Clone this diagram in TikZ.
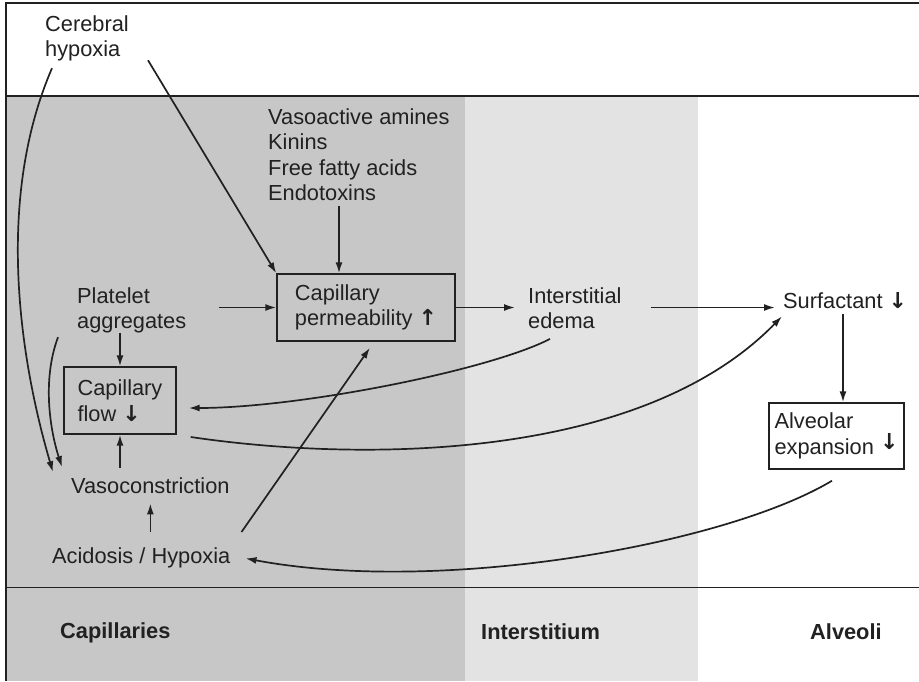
\documentclass[tikz,border=0pt]{standalone}
\usepackage{fontspec}
\setmainfont{Liberation Sans}
\newfontfamily\arrfont{DejaVu Sans}
\usetikzlibrary{arrows.meta,calc}
\definecolor{capgray}{gray}{0.78}
\definecolor{intgray}{gray}{0.89}
\definecolor{ink}{gray}{0.13}
\newcommand{\upar}{{\arrfont\bfseries\fontsize{22}{24}\selectfont ↑}}
\newcommand{\dnar}{{\arrfont\bfseries\fontsize{22}{24}\selectfont ↓}}
\begin{document}
\begin{tikzpicture}[x=1pt,y=-1pt,
  txt/.style={inner sep=0pt, align=left, anchor=north west, text=ink, font=\fontsize{21.8}{25.5}\selectfont},
  bx/.style={draw=ink, line width=1.4pt, inner sep=0pt, align=left, text=ink, font=\fontsize{21.8}{25.5}\selectfont},
  bold/.style={txt, font=\fontsize{21.8}{25.5}\selectfont\bfseries},
  arr/.style={draw=ink, line width=1.7pt, -{Latex[length=11pt,width=7pt]}},
]
\useasboundingbox (0,0) rectangle (919,681);
\fill[white] (0,0) rectangle (919,681);
\fill[capgray] (6,96) rectangle (465,681);
\fill[intgray] (465,96) rectangle (698,681);
\draw[ink, line width=1.1pt] (919,3) -- (6,3) -- (6,681);
\draw[ink, line width=1.1pt] (6,96) -- (919,96);
\draw[ink, line width=0.9pt] (6,587) -- (919,587);

\node[txt] (cer) at (45,15) {Cerebral\\hypoxia};
\node[txt] (vaso) at (268,108) {Vasoactive amines\\Kinins\\Free fatty acids\\Endotoxins};
\node[bx, minimum width=178pt, minimum height=67pt] (perm) at (366,307.5) {Capillary\\permeability \upar};
\node[txt] (plat) at (77,287) {Platelet\\aggregates};
\node[txt] (edema) at (528,287) {Interstitial\\edema};
\node[txt] (surf) at (783,292) {Surfactant \dnar};
\node[bx, minimum width=112pt, minimum height=67pt] (flow) at (120,400.5) {Capillary\\flow \dnar};
\node[bx, minimum width=135pt, minimum height=66pt] (alv) at (836.5,436) {Alveolar\\expansion \raisebox{5pt}{\dnar}};
\node[txt] (vasoc) at (71,477) {Vasoconstriction};
\node[txt] (acid) at (52,547) {Acidosis / Hypoxia};
\node[bold] (lcap) at (60,622) {Capillaries};
\node[bold] (lint) at (481,623) {Interstitium};
\node[bold] (lalv) at (810,623) {Alveoli};

\coordinate (vx) at ($(vaso.south west)+(71,5)$);
\coordinate (pa) at ($(plat.east)+(33,0)$);
\coordinate (sa) at ($(alv.north)+(6.5,0)$);

\draw[arr] ($(cer.south east)+(19,-1)$) -- (perm.north west);
\draw[arr] (vx) -- (vx |- perm.north);
\draw[arr] (pa |- perm.west) -- (perm.west);
\draw[arr, shorten >=13pt] (perm.east) -- (edema.west |- perm.east);
\draw[arr, shorten <=29pt, shorten >=8pt] (edema.east |- perm.east) -- (surf.west |- perm.east);
\draw[arr, shorten <=5pt] (sa |- surf.south) -- (sa);
\draw[arr] (flow.north |- plat.south) -- (flow.north);
\draw[arr, shorten <=9pt] (flow.south |- vasoc.north) -- (flow.south);
\draw[arr, shorten <=15pt, shorten >=10pt] (vasoc.south |- acid.north) -- (vasoc.south);
\draw[arr] ($(acid.north east)+(11,-15)$) -- ($(perm.south)+(4,6)$);
\draw[arr] ($(edema.south west)+(22,10)$) .. controls (490,370) and (300,408) .. ($(flow.east)+(12,7.5)$);
\draw[arr] ($(flow.east)+(14,36.5)$) .. controls (360,462) and (640,462) .. ($(surf.west)+(-1,16)$);
\draw[arr] ($(alv.south)+(-4.5,11)$) .. controls (725,545) and (440,595) .. ($(acid.east)+(15,1)$);
\draw[arr] ($(cer.south west)+(7,7)$) .. controls (-5,200) and (20,360) .. ($(vasoc.west)+(-18,-13)$);
\draw[arr] ($(plat.south west)+(-19,4)$) .. controls (42,380) and (50,430) .. ($(vasoc.west)+(-9,-18)$);
\end{tikzpicture}
\end{document}
